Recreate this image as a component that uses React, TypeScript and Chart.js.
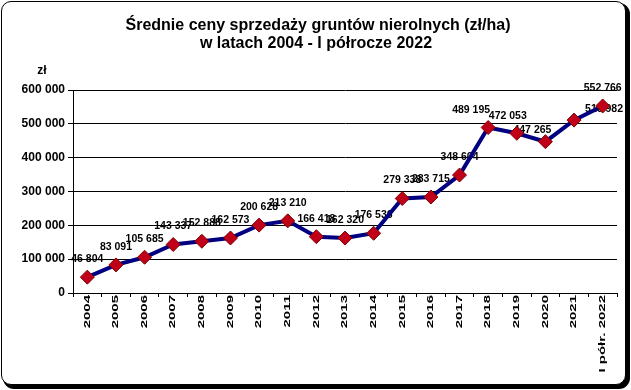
import React, { useEffect, useRef } from "react";
import { Chart, registerables } from "chart.js";

Chart.register(...registerables);

const titleLines = ["Średnie ceny sprzedaży gruntów nierolnych (zł/ha)", "w latach 2004 - I półrocze 2022"];
const unitLabel = "zł";
const years = [
  "2004", "2005", "2006", "2007", "2008", "2009", "2010", "2011", "2012", "2013",
  "2014", "2015", "2016", "2017", "2018", "2019", "2020", "2021", "I półr. 2022",
];
const prices = [
  46804, 83091, 105685, 143337, 152888, 162573, 200628, 213210, 166418, 162320,
  176536, 279338, 283715, 348604, 489195, 472053, 447265, 510982, 552766,
];
const yMin = 0;
const yMax = 600000;
const yStep = 100000;

// label placement tweaks (pixel shifts relative to default position above the point)
const LABEL_SHIFT: Record<number, [number, number]> = {
  14: [-17, 1],
  15: [-9, 1],
  16: [-13, 6],
  17: [30, 7],
};

const FONT = "'Liberation Sans', Arial, sans-serif";

function fmt(v: number): string {
  return String(v).replace(/\B(?=(\d{3})+(?!\d))/g, " ");
}

const decorPlugin = {
  id: "decor",
  beforeDraw(chart: any) {
    const ctx = chart.ctx;
    const meta = chart.getDatasetMeta(0);
    ctx.save();
    ctx.fillStyle = "#000";
    ctx.font = `bold 10.5px ${FONT}`;
    ctx.textAlign = "center";
    ctx.textBaseline = "middle";
    meta.data.forEach((pt: any, i: number) => {
      const s = LABEL_SHIFT[i] || [0, 0];
      ctx.fillText(fmt(prices[i]), pt.x + s[0], pt.y - 18 + s[1]);
    });
    ctx.restore();
  },
  afterDraw(chart: any) {
    const ctx = chart.ctx;
    const area = chart.chartArea;
    ctx.save();
    ctx.fillStyle = "#000";
    // title
    ctx.font = `bold 16px ${FONT}`;
    ctx.textAlign = "center";
    ctx.textBaseline = "alphabetic";
    ctx.fillText(titleLines[0], 318, 30);
    ctx.fillText(titleLines[1], 316, 48);
    // unit
    ctx.font = `bold 12px ${FONT}`;
    ctx.fillText(unitLabel, 42, 74);
    // x labels, rotated and compressed
    const xs = chart.scales.x;
    ctx.font = `bold 15px ${FONT}`;
    ctx.textAlign = "right";
    ctx.textBaseline = "middle";
    years.forEach((lab, i) => {
      const x = xs.getPixelForValue(i);
      ctx.save();
      ctx.translate(x, area.bottom + 2);
      ctx.rotate(-Math.PI / 2);
      ctx.scale(1, 0.55);
      ctx.fillText(lab, 0, 0);
      ctx.restore();
    });
    ctx.restore();
  },
};

export default function App() {
  const ref = useRef<HTMLCanvasElement | null>(null);
  useEffect(() => {
    if (!ref.current) return;
    const chart = new Chart(ref.current, {
      type: "line",
      data: {
        labels: years,
        datasets: [
          {
            data: prices,
            borderColor: "#000080",
            borderWidth: 4,
            pointStyle: "rectRot",
            pointRadius: 7,
            pointBackgroundColor: "#C00018",
            pointBorderColor: "#800000",
            pointBorderWidth: 1,
            tension: 0,
          },
        ],
      },
      options: {
        responsive: false,
        animation: false,
        layout: { padding: { top: 90, right: 14, bottom: 0, left: 0 } },
        plugins: { legend: { display: false }, tooltip: { enabled: false }, title: { display: false } },
        scales: {
          x: {
            offset: true,
            afterFit: (s: any) => { s.height = 97; },
            ticks: { display: false },
            grid: { display: true, offset: true, drawOnChartArea: false, color: "#000", tickLength: 4 },
            border: { display: true, color: "#000", width: 1 },
          },
          y: {
            min: yMin,
            max: yMax,
            afterFit: (s: any) => { s.width = 73; },
            ticks: {
              stepSize: yStep,
              color: "#000",
              padding: 3,
              font: { family: FONT, size: 12, weight: "bold" },
              callback: (v: any) => fmt(Number(v)),
            },
            grid: { color: "#000", lineWidth: 1, tickLength: 5 },
            border: { display: true, color: "#000", width: 1 },
          },
        },
      },
      plugins: [decorPlugin],
    });
    return () => chart.destroy();
  }, []);

  return (
    <div style={{ position: "fixed", left: 0, top: 0, width: 631, height: 390, background: "#fff" }}>
      <div
        style={{
          position: "absolute",
          left: 1,
          top: 1,
          width: 623,
          height: 382,
          border: "1px solid #000",
          borderRadius: 10,
          boxShadow: "3px 3px 0 1px #000",
          background: "#fff",
        }}
      />
      <canvas ref={ref} width={631} height={390} style={{ position: "absolute", left: 0, top: 0 }} />
    </div>
  );
}
